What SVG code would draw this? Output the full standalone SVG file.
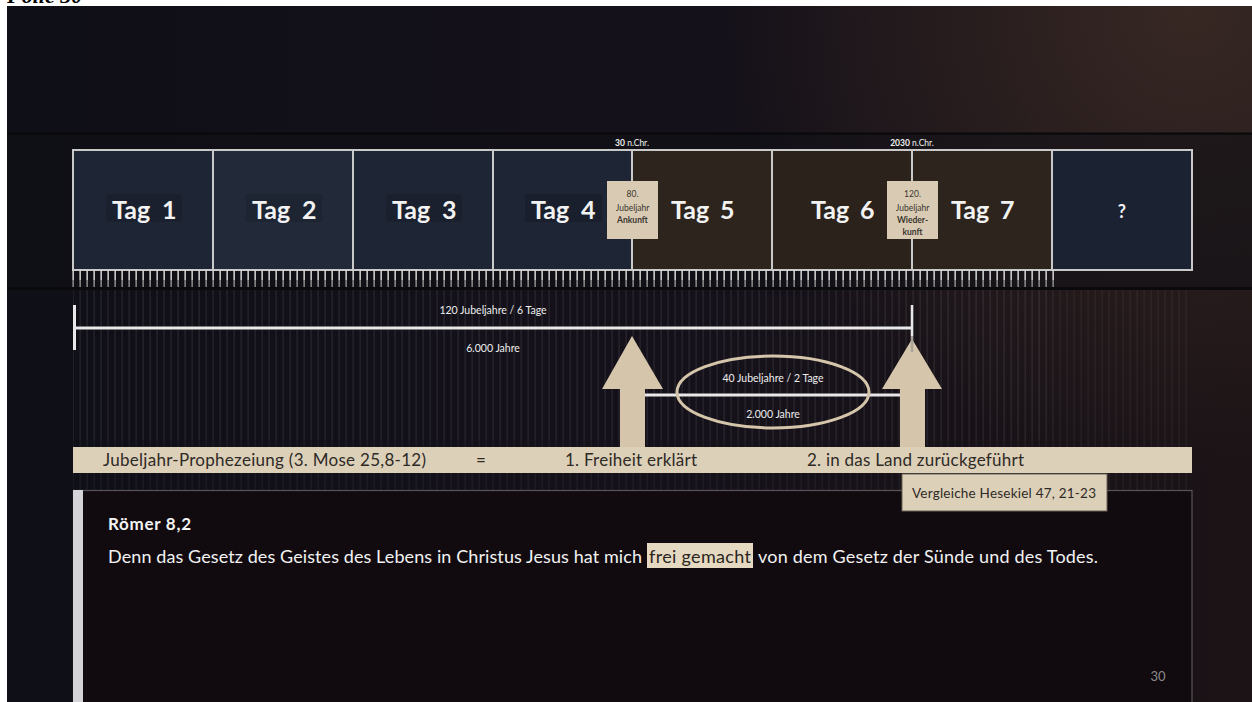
<svg xmlns="http://www.w3.org/2000/svg" width="1252" height="702" viewBox="0 0 1252 702">
<defs>
  <linearGradient id="bgH" x1="0" y1="0" x2="1" y2="0">
    <stop offset="0" stop-color="#0f0f17"/>
    <stop offset="0.55" stop-color="#15111a"/>
    <stop offset="1" stop-color="#1b1316"/>
  </linearGradient>
  <radialGradient id="glow" cx="1190" cy="10" r="460" gradientUnits="userSpaceOnUse">
    <stop offset="0" stop-color="#3a2a25" stop-opacity="0.9"/>
    <stop offset="1" stop-color="#3a2a25" stop-opacity="0"/>
  </radialGradient>
  <pattern id="ticks" x="72" y="270" width="7" height="18" patternUnits="userSpaceOnUse">
    <rect x="0.4" y="0" width="1.5" height="10" fill="#d6d6d6"/>
    <rect x="0.4" y="10" width="1.5" height="7" fill="#8c8c8c"/>
  </pattern>
  <pattern id="stripes" x="72" y="0" width="7" height="10" patternUnits="userSpaceOnUse">
    <rect x="0.4" y="0" width="1.5" height="10" fill="#ffffff"/>
  </pattern>
  <clipPath id="topStrip"><rect x="0" y="0" width="1252" height="6"/></clipPath>
  <style>
    .f{font-family:Lato,"Open Sans","Liberation Sans",sans-serif}
    .tag{font-size:25px;font-weight:bold;fill:#f2f2f2}
    .navy{fill:#1e2535}
    .brown{fill:#2d241d}
    .beige{fill:#ddd0b9}
    .lbl{font-size:8.5px;fill:#3a3530;text-anchor:middle}
    .hdr{font-size:8.5px;fill:#f0f0f0;text-anchor:middle}
    .wt{font-size:10.5px;fill:#eeeeee;text-anchor:middle}
    .bar{font-size:17px;fill:#2e2a26}
    .body{font-size:18px;fill:#f2f2f2}
    .wline{stroke:#e8e8e8;stroke-width:3;fill:none}
    .arrow{fill:#d5c6ab}
  </style>
</defs>

<!-- page frame -->
<rect x="0" y="0" width="1252" height="702" fill="#ffffff"/>
<text x="7" y="3" clip-path="url(#topStrip)" style="font-family:'Liberation Serif',serif;font-size:22px;font-weight:bold;font-style:italic" fill="#000000">Folie 30</text>

<!-- background -->
<rect x="7" y="6" width="1245" height="696" fill="url(#bgH)"/>
<rect x="7" y="6" width="1245" height="696" fill="url(#glow)"/>
<rect x="7" y="133" width="1245" height="157" fill="#111015" opacity="0.55"/>
<line x1="7" y1="133.5" x2="1252" y2="133.5" stroke="#08080b" stroke-width="2"/>
<line x1="7" y1="288.5" x2="1252" y2="288.5" stroke="#0a090c" stroke-width="3"/>
<rect x="73" y="290" width="1119" height="412" fill="url(#stripes)" opacity="0.045"/>
<rect x="73" y="290" width="980" height="150" fill="url(#stripes)" opacity="0.03"/>

<!-- timeline days -->
<g id="day1"><rect x="73" y="150" width="140" height="120" class="navy"/><rect x="106" y="194" width="76" height="28" fill="#000" opacity="0.12"/><text class="f tag" y="219"><tspan x="112">Tag </tspan><tspan x="162">1</tspan></text></g>
<g id="day2"><rect x="213" y="150" width="140" height="120" fill="#222939"/><rect x="246" y="194" width="76" height="28" fill="#000" opacity="0.12"/><text class="f tag" y="219"><tspan x="252">Tag </tspan><tspan x="302">2</tspan></text></g>
<g id="day3"><rect x="353" y="150" width="140" height="120" class="navy"/><rect x="386" y="194" width="76" height="28" fill="#000" opacity="0.12"/><text class="f tag" y="219"><tspan x="392">Tag </tspan><tspan x="442">3</tspan></text></g>
<g id="day4"><rect x="493" y="150" width="139" height="120" class="navy"/><rect x="525" y="194" width="77" height="28" fill="#000" opacity="0.15"/><text class="f tag" y="219"><tspan x="531">Tag </tspan><tspan x="581">4</tspan></text></g>
<g id="day5"><rect x="632" y="150" width="140" height="120" class="brown"/><text class="f tag" y="219"><tspan x="671">Tag </tspan><tspan x="720">5</tspan></text></g>
<g id="day6"><rect x="772" y="150" width="140" height="120" fill="#2b221c"/><text class="f tag" y="219"><tspan x="811">Tag </tspan><tspan x="860">6</tspan></text></g>
<g id="day7"><rect x="912" y="150" width="140" height="120" class="brown"/><text class="f tag" y="219"><tspan x="951">Tag </tspan><tspan x="1000">7</tspan></text></g>
<g id="dayQ"><rect x="1052" y="150" width="140" height="120" fill="#1b2232"/><text class="f" x="1122" y="218" text-anchor="middle" style="font-size:18px;font-weight:bold;fill:#f2f2f2">?</text></g>

<g id="grid">
  <rect x="73" y="150" width="1119" height="120" fill="none" stroke="#c9c9c9" stroke-width="2"/>
  <path d="M213 150V270M353 150V270M493 150V270M632 150V270M772 150V270M912 150V270M1052 150V270" stroke="#c9c9c9" stroke-width="2"/>
  <rect x="72" y="270" width="982" height="17" fill="url(#ticks)"/>
</g>

<g id="hdr30"><text class="f hdr" x="632" y="146"><tspan font-weight="bold">30</tspan> n.Chr.</text></g>
<g id="hdr2030"><text class="f hdr" x="912" y="146"><tspan font-weight="bold">2030</tspan> n.Chr.</text></g>

<g id="mark80">
  <rect x="607" y="181" width="51" height="58" fill="#d9cbb3"/>
  <text class="f lbl" x="632.5" y="197">80.</text>
  <text class="f lbl" x="632.5" y="211">Jubeljahr</text>
  <text class="f lbl" x="632.5" y="223" font-weight="bold">Ankunft</text>
</g>
<g id="mark120">
  <rect x="887" y="181" width="51" height="58" fill="#d9cbb3"/>
  <text class="f lbl" x="912.5" y="197">120.</text>
  <text class="f lbl" x="912.5" y="211">Jubeljahr</text>
  <text class="f lbl" x="912.5" y="223" font-weight="bold">Wieder-</text>
  <text class="f lbl" x="912.5" y="235" font-weight="bold">kunft</text>
</g>

<!-- connectors -->
<g id="connectors">
  <path class="arrow" d="M632 336L663 389H645V448H620V389H602Z"/>
  <path class="arrow" d="M912 339L942 389H925V448H900V389H882Z"/>
  <path class="wline" d="M74.5 305V350M74 328H912"/>
  <path d="M912 305V336" stroke="#e8e8e8" stroke-width="2.5"/>
  <path d="M912 336V352" stroke="#a9a39a" stroke-width="2.5"/>
  <path class="wline" d="M645 395H900"/>
  <ellipse cx="773" cy="392" rx="96" ry="36" fill="none" stroke="#d5c6ab" stroke-width="3"/>
</g>

<g id="span6000">
  <text class="f wt" x="493" y="314">120 Jubeljahre / 6 Tage</text>
  <text class="f wt" x="493" y="352">6.000 Jahre</text>
</g>
<g id="span2000">
  <text class="f wt" x="773" y="382">40 Jubeljahre / 2 Tage</text>
  <text class="f wt" x="773" y="418">2.000 Jahre</text>
</g>

<g id="prophecyBar">
  <rect x="73" y="447" width="1119" height="26" class="beige"/>
  <text class="f bar" x="103" y="466" textLength="323">Jubeljahr-Prophezeiung (3. Mose 25,8-12)</text>
  <text class="f bar" x="481" y="466" text-anchor="middle">=</text>
  <text class="f bar" x="565" y="466" textLength="132">1. Freiheit erklärt</text>
  <text class="f bar" x="807" y="466" textLength="217">2. in das Land zurückgeführt</text>
</g>

<g id="quote">
  <rect x="73.5" y="490.5" width="1118.5" height="220" fill="#110b10" stroke="#5a5458" stroke-width="1.2"/>
  <rect x="73" y="490" width="10" height="212" fill="#d4d4d8"/>
  <text class="f" x="108" y="530" textLength="83" style="font-size:17px;font-weight:bold;fill:#f4f4f4">Römer 8,2</text>
  <text class="f body" x="108" y="563" textLength="534">Denn das Gesetz des Geistes des Lebens in Christus Jesus hat mich</text>
  <rect x="647" y="543" width="106" height="25" fill="#e6d9c2"/>
  <text class="f body" x="649" y="563" textLength="102" style="fill:#2b2620">frei gemacht</text>
  <text class="f body" x="758" y="563" textLength="340">von dem Gesetz der Sünde und des Todes.</text>
  <text class="f" x="1158" y="681" text-anchor="middle" style="font-size:13px;fill:#8a8a8a">30</text>
</g>

<g id="hesekiel">
  <rect x="902" y="474" width="205" height="37" fill="#ddd0b9" stroke="#6b6257" stroke-width="1"/>
  <text class="f" x="912" y="498" textLength="184" style="font-size:13.5px;fill:#2e2a26">Vergleiche Hesekiel 47, 21-23</text>
</g>
</svg>
